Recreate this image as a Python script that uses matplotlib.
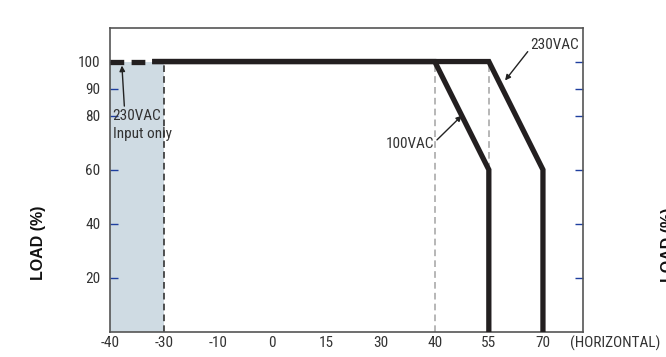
import matplotlib
matplotlib.use("Agg")
import matplotlib.pyplot as plt
from matplotlib import font_manager

# Data
x_labels = ["-40", "-30", "-10", "0", "15", "30", "40", "55", "70"]
y_ticks = [20, 40, 60, 80, 90, 100]
# curves in category-index coordinates (x index, load %)
curve_100_x = [0.78, 6, 7, 7]
curve_100_y = [100, 100, 60, 0]
curve_230_x = [0.78, 7, 8, 8]
curve_230_y = [100, 100, 60, 0]
dash_x = [0, 0.78]
dash_y = [100, 100]

names = {f.name for f in font_manager.fontManager.ttflist}
cond = [n for n in ['Liberation Sans Narrow', 'Arial Narrow', 'DejaVu Sans Condensed',
                    'Roboto Condensed', 'Open Sans Condensed'] if n in names]
NARROW = (cond[:1] + ['DejaVu Sans'])
TSIZE = 11 if cond else 8.5
TXT = '#333333'
BLUE = '#1f3f9f'

fig = plt.figure(figsize=(6.66, 3.57), dpi=100)
W, H = 666, 357
ax = fig.add_axes([110 / W, 1 - 332 / H, (583 - 110) / W, (332 - 28) / H])
ax.set_xlim(0, 8.74)
ax.set_ylim(0, 112.4)

# shaded region
ax.fill_between([0, 1], 0, 100, color='#cfdbe3', lw=0, zorder=1)
ax.plot([1, 1], [0, 100], color='#333333', lw=1.2, ls=(0, (4, 2.5)), zorder=2)
ax.plot([6, 6], [0, 100], color='#aaaaaa', lw=1.2, ls=(0, (4, 2.5)), zorder=2)
ax.plot([7, 7], [0, 100], color='#aaaaaa', lw=1.2, ls=(0, (4, 2.5)), zorder=2)

lw = 3.8
ax.plot(dash_x, dash_y, color='#231f20', lw=lw, ls=(0, (2.6, 1.4)), solid_capstyle='butt', dash_capstyle='butt', zorder=3)
ax.plot(curve_100_x, curve_100_y, color='#231f20', lw=lw, solid_joinstyle='miter', solid_capstyle='butt', zorder=4)
ax.plot(curve_230_x, curve_230_y, color='#231f20', lw=lw, solid_joinstyle='miter', solid_capstyle='butt', zorder=4)

for s in ax.spines.values():
    s.set_color('#555555')
    s.set_linewidth(1.2)

ax.set_xticks(range(len(x_labels)))
ax.set_xticklabels(x_labels, fontfamily=NARROW, fontsize=TSIZE, color=TXT)
ax.tick_params(axis='x', length=0, pad=3)
ax.set_xticks([3, 4, 5, 6], minor=True)
ax.tick_params(axis='x', which='minor', direction='in', length=6, color=BLUE, width=1)

ax.set_yticks(y_ticks)
ax.set_yticklabels([str(v) for v in y_ticks], fontfamily=NARROW, fontsize=TSIZE, color=TXT)
ax.tick_params(axis='y', direction='in', length=6, color=BLUE, width=1, pad=7,
               right=True)

BOLDF = ['Liberation Sans', 'DejaVu Sans']
fig.text(38 / W, 1 - 243 / H, 'LOAD (%)', fontsize=11.5, fontweight='bold', color='#111111',
         rotation=90, ha='center', va='center', fontfamily=BOLDF)

# annotations
ax.annotate('230VAC\nInput only', xy=(0.22, 98.5), xytext=(0.05, 82.5),
            fontfamily=NARROW, fontsize=TSIZE, color=TXT, ha='left', va='top', linespacing=1.35,
            arrowprops=dict(arrowstyle='-|>', color='#222222', lw=1, mutation_scale=8,
                            shrinkA=0, shrinkB=0, relpos=(0.2, 1.0)))
ax.annotate('100VAC', xy=(6.5, 80), xytext=(5.99, 69.5),
            fontfamily=NARROW, fontsize=TSIZE, color=TXT, ha='right', va='center',
            arrowprops=dict(arrowstyle='-|>', color='#222222', lw=1, mutation_scale=8,
                            shrinkA=0, shrinkB=0, relpos=(1.0, 0.6)))
ax.annotate('230VAC', xy=(7.3, 93), xytext=(7.77, 106),
            fontfamily=NARROW, fontsize=TSIZE, color=TXT, ha='left', va='center',
            arrowprops=dict(arrowstyle='-|>', color='#222222', lw=1, mutation_scale=8,
                            shrinkA=0, shrinkB=0, relpos=(0.0, 0.3)))

fig.text(570 / W, 1 - 343 / H, '(HORIZONTAL)', fontfamily=NARROW, fontsize=TSIZE, color=TXT,
         ha='left', va='center')
fig.text(668 / W, 1 - 245 / H, 'LOAD (%)', fontsize=11.5, fontweight='bold', color='#111111',
         rotation=90, ha='center', va='center', fontfamily=BOLDF)

fig.savefig('out.png', dpi=100)
